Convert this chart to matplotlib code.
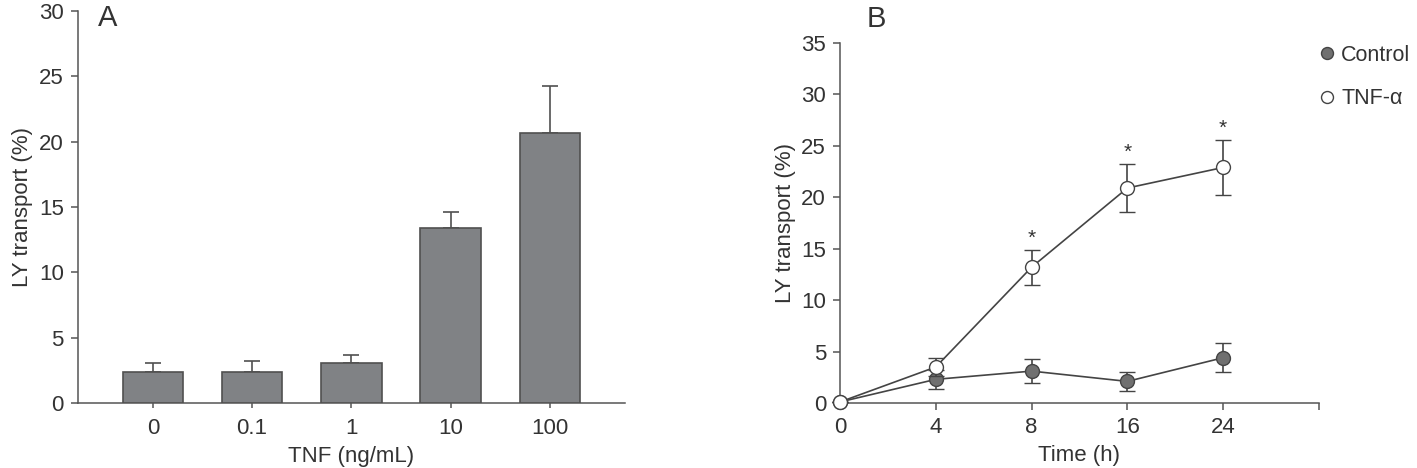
import matplotlib
matplotlib.use('Agg')
import matplotlib.pyplot as plt
from matplotlib.lines import Line2D

plt.rcParams['font.family'] = ['Liberation Sans', 'DejaVu Sans']

# Panel A data
doses = ['0', '0.1', '1', '10', '100']
ly_dose = [2.35, 2.35, 3.05, 13.4, 20.65]
ly_dose_err = [0.7, 0.85, 0.65, 1.25, 3.6]

# Panel B data
times = ['0', '4', '8', '16', '24']
control = [0.1, 2.3, 3.1, 2.1, 4.4]
control_err = [0.0, 0.9, 1.2, 0.9, 1.4]
tnf = [0.1, 3.5, 13.2, 20.9, 22.9]
tnf_err = [0.0, 0.9, 1.7, 2.3, 2.7]
signif = [False, False, True, True, True]

txt = '#333333'
axc = '#555555'
bar_c = '#808285'
fs = 16

fig = plt.figure(figsize=(14.17, 4.68), dpi=100)
axA = fig.add_axes([0.0548, 0.1389, 0.3862, 0.8376])
axB = fig.add_axes([0.5928, 0.1389, 0.3380, 0.7692])

for ax in (axA, axB):
    ax.spines['top'].set_visible(False)
    ax.spines['right'].set_visible(False)
    for s in ('left', 'bottom'):
        ax.spines[s].set_color(axc)
        ax.spines[s].set_linewidth(1.1)
    ax.tick_params(colors=axc, labelcolor=txt, labelsize=fs, length=5, width=1.1, pad=5)
    ax.set_ylabel('LY transport (%)', fontsize=fs, color=txt, labelpad=4)

# Panel A
xa = range(len(doses))
axA.bar(xa, ly_dose, width=0.61, color=bar_c, edgecolor='#505050', linewidth=1.2, zorder=3)
axA.errorbar(xa, ly_dose, yerr=[[0] * len(ly_dose), ly_dose_err], fmt='none',
             ecolor='#505050', elinewidth=1.2, capsize=6, capthick=1.2, zorder=2)
axA.set_xlim(-0.757, 4.754)
axA.set_ylim(0, 30)
axA.set_yticks(range(0, 31, 5))
axA.set_xticks(list(xa))
axA.set_xticklabels(doses)
axA.tick_params(axis='x', length=3.5, pad=7)
axA.set_xlabel('TNF (ng/mL)', fontsize=fs, color=txt, labelpad=5)
fig.text(108 / 1417, 1 - 18 / 468, 'A', fontsize=21, color=txt, ha='center', va='center')

# Panel B
xb = list(range(len(times)))
axB.errorbar(xb, control, yerr=control_err, fmt='-o', color='#444444', mfc='#707070',
             mec='#444444', mew=1.0, ms=10, lw=1.2, elinewidth=1.2, capsize=6, capthick=1.2,
             zorder=3, clip_on=False)
axB.errorbar(xb, tnf, yerr=tnf_err, fmt='-o', color='#444444', mfc='white',
             mec='#444444', mew=1.0, ms=10, lw=1.2, elinewidth=1.2, capsize=6, capthick=1.2,
             zorder=4, clip_on=False)
for x, v, e, s in zip(xb, tnf, tnf_err, signif):
    if s:
        axB.text(x, v + e + 0.2, '*', ha='center', va='bottom', fontsize=15, color=txt)
axB.set_xlim(0, 5)
axB.set_ylim(0, 35)
axB.set_yticks(range(0, 36, 5))
axB.set_xticks(xb + [5])
axB.set_xticklabels(times + [''])
axB.set_xlabel('Time (h)', fontsize=fs, color=txt, labelpad=5)
fig.text(876 / 1417, 1 - 19 / 468, 'B', fontsize=21, color=txt, ha='center', va='center')

handles = [
    Line2D([0], [0], marker='o', ls='', mfc='#707070', mec='#444444', mew=1.0, ms=8.6, label='Control'),
    Line2D([0], [0], marker='o', ls='', mfc='white', mec='#444444', mew=1.0, ms=8.6, label='TNF-α'),
]
fig.legend(handles=handles, loc='upper left', bbox_to_anchor=(1308 / 1417, 1 - 36 / 468),
           frameon=False, fontsize=15.5, handletextpad=0.15, labelspacing=1.05,
           borderaxespad=0, handlelength=1.0, labelcolor=txt)

fig.savefig('out.png', dpi=100)
